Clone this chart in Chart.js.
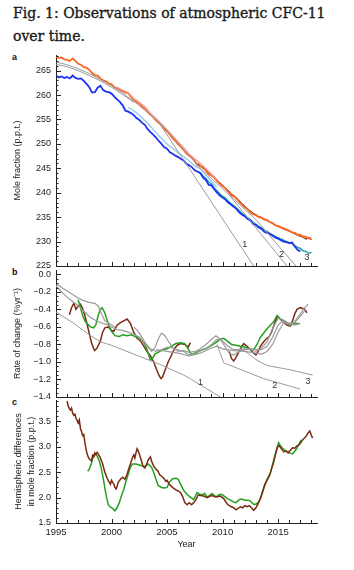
<!DOCTYPE html>
<html>
<head>
<meta charset="utf-8">
<script src="https://cdn.jsdelivr.net/npm/chart.js@4.4.1/dist/chart.umd.min.js"></script>
<style>
  body { margin: 0; background: #fff; }
  #page { position: relative; width: 354px; height: 570px; overflow: hidden; }
  #title { position: absolute; left: 13px; top: 2px; font-family: "DejaVu Serif", serif; font-size: 14px; line-height: 23px; color: #1a1a1a; white-space: nowrap; -webkit-text-stroke: 0.35px #1a1a1a; }
  .tag { position: absolute; left: 12px; font: bold 9px "Liberation Sans", Arial, sans-serif; color: #111; }
  canvas { position: absolute; left: 0; }
</style>
</head>
<body>
<div id="page">
  <div id="title">Fig. 1: Observations of atmospheric CFC-11<br>over time.</div>
  <div class="tag" style="top:52px">a</div>
  <div class="tag" style="top:267px">b</div>
  <div class="tag" style="top:397px">c</div>
  <canvas id="chartA" width="354" height="226" style="top:48px"></canvas>
  <canvas id="chartB" width="354" height="140" style="top:266px"></canvas>
  <canvas id="chartC" width="354" height="160" style="top:395px"></canvas>
</div>
<script>
// ---- panel a: mole fraction (p.p.t.), quarterly from the start year ----
const nhAgageStart = 1995.0;
const nhAgage = [267.8, 267.6, 267.7, 267.3, 267.2, 267.0, 267.5, 267.0, 266.4, 266.2, 265.7, 265.6,
  265.2, 264.5, 264.1, 264.0, 263.4, 263.0, 262.8, 262.4, 262.2, 261.6, 261.4, 261.1,
  260.8, 260.5, 260.4, 259.6, 259.0, 258.6, 258.3, 257.6, 257.2, 256.5, 256.0, 255.5,
  254.8, 254.3, 253.8, 253.0, 252.6, 251.9, 251.2, 250.6, 249.9, 249.4, 248.7, 248.0,
  247.5, 247.2, 246.5, 245.6, 245.4, 245.3, 244.5, 243.8, 243.5, 243.2, 242.4, 241.8,
  241.3, 240.9, 240.2, 239.6, 239.3, 238.9, 238.1, 237.5, 237.0, 236.6, 236.0, 235.6,
  235.4, 235.0, 234.9, 234.5, 234.4, 234.0, 233.8, 233.3, 233.2, 232.9, 232.7, 232.5,
  232.2, 231.9, 231.8, 231.4, 231.4, 231.0, 231.0, 230.6, 230.7];
const shAgageStart = 1995.0;
const shAgage = [264.0, 263.6, 263.8, 263.5, 263.7, 263.4, 264.0, 263.5, 263.3, 263.4, 262.9, 262.3,
  261.6, 260.5, 260.6, 261.5, 261.9, 261.0, 260.7, 260.6, 260.3, 259.7, 259.1, 258.6,
  257.9, 256.8, 256.6, 256.3, 255.9, 255.3, 254.9, 254.3, 253.9, 253.0, 252.4, 251.9,
  251.3, 250.6, 250.0, 249.3, 249.0, 248.3, 248.0, 247.6, 247.3, 246.9, 246.6, 245.9,
  245.6, 245.2, 244.6, 244.3, 244.0, 243.1, 242.6, 241.6, 241.5, 240.7, 240.0, 239.4,
  239.0, 238.6, 238.0, 237.6, 237.1, 236.7, 236.0, 235.5, 235.2, 234.6, 234.3, 233.6,
  233.4, 232.9, 232.6, 232.0, 231.8, 231.6, 231.2, 230.8, 230.6, 230.3, 230.0, 229.9,
  229.7, 229.8, 229.0, 228.3, 228.0];
const nhNoaaStart = 2007.75;
const nhNoaa = [246.0, 245.5, 245.0, 244.6, 244.0, 243.6, 243.0, 242.5, 242.0, 241.5, 240.9, 240.4,
  239.8, 239.4, 238.8, 238.3, 237.7, 237.2, 236.7, 236.2, 235.8, 235.5, 235.1, 234.9,
  234.6, 234.3, 234.0, 233.7, 233.4, 233.1, 232.9, 232.6, 232.4, 232.1, 231.9, 231.6,
  231.3, 231.1, 230.9, 230.5, 230.8, 230.4];
const shNoaaStart = 2007.75;
const shNoaa = [244.4, 244.1, 243.4, 242.9, 242.2, 241.8, 241.0, 240.4, 239.8, 239.3, 238.9, 238.3,
  237.8, 237.4, 236.9, 236.3, 235.8, 235.4, 234.9, 234.5, 233.9, 233.6, 233.1, 232.8,
  232.3, 232.1, 231.7, 231.4, 231.1, 230.8, 230.5, 230.3, 230.0, 229.8, 229.6, 229.2,
  228.8, 228.6, 228.1, 228.0, 227.6, 227.8];
const nhOtherYears = [2000.5, 2001.0, 2001.5, 2002.0, 2002.5, 2003.0, 2003.5, 2004.0, 2004.5, 2005.0,
  2005.5, 2006.0, 2006.5, 2007.0, 2007.5, 2008.0, 2008.5, 2009.0, 2009.5];
const nhOther = [261.6, 261.0, 260.5, 259.3, 258.5, 257.6, 256.3, 255.2, 254.1, 252.9,
  251.7, 250.4, 249.2, 247.9, 246.9, 246.0, 244.9, 243.8, 242.7];
const shOtherYears = [2001.5, 2002.0, 2002.5, 2003.0, 2003.5, 2004.0, 2004.5, 2005.0, 2005.5, 2006.0,
  2006.5, 2007.0, 2007.5, 2008.0, 2008.5, 2009.0, 2009.5];
const shOther = [257.5, 256.8, 255.9, 254.8, 253.6, 252.3, 251.1, 250.0, 249.1, 248.2,
  247.4, 246.5, 245.5, 244.8, 243.6, 242.3, 241.1];
const meanYears = [1995, 1996, 1997, 1998, 1999, 2000, 2001, 2002, 2003, 2004, 2005, 2006, 2007,
  2008, 2009, 2010, 2011, 2012, 2013];
const meanFit = [266.8, 266.2, 265.4, 264.4, 263.2, 261.9, 260.4, 258.7, 256.9, 255.0, 252.8, 250.2, 247.5,
  245.0, 242.9, 240.8, 238.8, 236.6, 234.5];
const earlyFitYears = [1995, 1996, 1997, 1998, 1999, 2000, 2001, 2002];
const earlyFit = [266.3, 265.8, 265.0, 264.0, 262.9, 261.6, 260.1, 258.5];
const projAYears = [[2004.2, 2012.8], [2010.5, 2015.8], [2013.0, 2016.6]];
const projAValues = [[254.6, 225.0], [239.8, 225.0], [234.5, 225.0]];
const moleTicks = [225, 230, 235, 240, 245, 250, 255, 260, 265];

// ---- panel b: rate of change (% per yr) ----
const rateNh1Years = [1996.2, 1996.4, 1996.6, 1996.8, 1997.0, 1997.2, 1997.4, 1997.6, 1997.8, 1998.0,
  1998.2, 1998.4, 1998.5, 1998.7, 1999.0, 1999.2, 1999.4, 1999.7, 2000.0, 2000.2, 2000.5, 2000.8,
  2001.1, 2001.4, 2001.7, 2002.0, 2002.3, 2002.6, 2002.9, 2003.2, 2003.5, 2003.8, 2004.1, 2004.3,
  2004.45, 2004.6, 2004.8, 2005.1, 2005.4, 2005.7, 2006.0, 2006.3, 2006.6, 2006.9, 2007.1];
const rateNh1 = [-0.46, -0.38, -0.33, -0.40, -0.36, -0.34, -0.39, -0.47, -0.57, -0.68,
  -0.78, -0.85, -0.87, -0.84, -0.76, -0.66, -0.61, -0.60, -0.64, -0.65, -0.58, -0.55,
  -0.53, -0.51, -0.56, -0.66, -0.73, -0.76, -0.82, -0.88, -0.93, -1.00, -1.10, -1.16,
  -1.19, -1.17, -1.10, -1.00, -0.92, -0.84, -0.80, -0.79, -0.80, -0.83, -0.78];
const rateNh2Years = [2010.6, 2010.8, 2011.0, 2011.2, 2011.4, 2011.6, 2011.9, 2012.2, 2012.5, 2012.8,
  2013.0, 2013.2, 2013.4, 2013.7, 2013.9, 2014.2, 2014.4, 2014.6, 2014.8, 2014.95, 2015.2, 2015.5,
  2015.8, 2016.1, 2016.3, 2016.5, 2016.7, 2017.0, 2017.2, 2017.4, 2017.6];
const rateNh2 = [-0.88, -0.96, -0.99, -0.95, -0.90, -0.85, -0.79, -0.82, -0.86, -0.90,
  -0.92, -0.88, -0.82, -0.77, -0.74, -0.71, -0.66, -0.59, -0.52, -0.48, -0.51, -0.55,
  -0.58, -0.59, -0.53, -0.45, -0.40, -0.38, -0.39, -0.40, -0.44];
const rateShYears = [1997.0, 1997.2, 1997.4, 1997.6, 1997.8, 1998.1, 1998.4, 1998.6, 1998.8, 1999.0,
  1999.15, 1999.4, 1999.7, 2000.0, 2000.3, 2000.7, 2001.0, 2001.4, 2001.8, 2002.1, 2002.5, 2002.8,
  2003.1, 2003.3, 2003.5, 2003.7, 2003.9, 2004.2, 2004.6, 2005.0, 2005.4, 2005.8, 2006.2, 2006.6,
  2006.9, 2007.2, 2007.5, 2007.8, 2008.2, 2008.6, 2009.0, 2009.4, 2009.8, 2010.1, 2010.4, 2010.8,
  2011.2, 2011.6, 2012.0, 2012.4, 2012.8, 2013.1, 2013.4, 2013.7, 2014.0, 2014.3, 2014.6, 2014.9,
  2015.2, 2015.5, 2015.8, 2016.1, 2016.4, 2016.9];
const rateSh = [-0.29, -0.38, -0.47, -0.53, -0.56, -0.60, -0.61, -0.57, -0.47, -0.40,
  -0.38, -0.44, -0.56, -0.65, -0.70, -0.71, -0.69, -0.70, -0.69, -0.71, -0.72, -0.76,
  -0.82, -0.90, -0.98, -0.96, -0.91, -0.89, -0.86, -0.85, -0.82, -0.79, -0.78, -0.79,
  -0.85, -0.92, -0.90, -0.88, -0.86, -0.84, -0.81, -0.78, -0.74, -0.73, -0.76, -0.80,
  -0.81, -0.82, -0.83, -0.85, -0.86, -0.80, -0.72, -0.67, -0.62, -0.58, -0.54, -0.47,
  -0.51, -0.53, -0.55, -0.58, -0.56, -0.56];
const rateMeanYears = [1995.0, 1995.5, 1996.0, 1996.5, 1997.0, 1997.5, 1998.0, 1998.5, 1999.0, 1999.5,
  2000.0, 2000.5, 2001.0, 2001.5, 2002.0, 2002.5, 2003.0, 2003.5, 2004.0, 2004.5, 2005.0, 2005.5,
  2006.0, 2006.5, 2007.0, 2007.5, 2008.0, 2008.5, 2009.0, 2009.5, 2010.0, 2010.5, 2011.0, 2011.5,
  2012.0, 2012.5, 2013.0, 2013.5, 2014.0, 2014.5, 2015.0, 2015.5, 2016.0, 2016.5, 2017.0, 2017.5];
const rateMean = [-0.13, -0.20, -0.26, -0.31, -0.36, -0.42, -0.48, -0.52, -0.55, -0.57,
  -0.60, -0.63, -0.64, -0.66, -0.68, -0.72, -0.78, -0.85, -0.88, -0.86, -0.83, -0.84,
  -0.86, -0.88, -0.92, -0.91, -0.87, -0.85, -0.80, -0.74, -0.76, -0.82, -0.86, -0.86,
  -0.85, -0.86, -0.88, -0.84, -0.77, -0.62, -0.50, -0.52, -0.56, -0.55, -0.48, -0.40];
const rateEarlyYears = [1995.0, 1995.5, 1996.0, 1996.5, 1997.0, 1997.5, 1998.0, 1998.5, 1998.8, 1999.1,
  1999.4, 1999.8, 2000.3];
const rateEarly = [-0.10, -0.15, -0.19, -0.23, -0.27, -0.30, -0.32, -0.33, -0.36, -0.45,
  -0.53, -0.56, -0.60];
const rateGrayNhYears = [2002.0, 2002.4, 2002.8, 2003.2, 2003.6, 2003.9, 2004.2, 2004.5, 2004.8, 2005.2,
  2005.6, 2006.0, 2006.5, 2007.0, 2007.5, 2008.0, 2008.5, 2009.0, 2009.4, 2009.8, 2010.2, 2010.6,
  2011.0, 2011.5, 2012.0, 2012.5, 2013.0, 2013.5, 2014.0, 2014.5, 2015.0, 2015.4, 2015.8, 2016.2,
  2016.6, 2017.0, 2017.4, 2017.7];
const rateGrayNh = [-0.60, -0.65, -0.73, -0.82, -0.88, -0.84, -0.74, -0.67, -0.70, -0.78,
  -0.85, -0.88, -0.87, -0.89, -0.88, -0.85, -0.80, -0.74, -0.70, -0.74, -0.82, -0.90,
  -0.92, -0.88, -0.86, -0.85, -0.86, -0.86, -0.82, -0.72, -0.58, -0.53, -0.56, -0.58,
  -0.52, -0.45, -0.38, -0.34];
const rateGrayShYears = [2004.0, 2005.0, 2006.0, 2007.0, 2008.0, 2009.0, 2009.5, 2010.0, 2011.0, 2012.0,
  2013.0, 2013.5, 2014.0, 2014.5, 2015.0, 2015.5, 2016.0, 2016.5, 2017.0];
const rateGraySh = [-0.86, -0.88, -0.90, -0.93, -0.90, -0.84, -0.82, -0.85, -0.87, -0.88,
  -0.90, -0.91, -0.88, -0.80, -0.66, -0.55, -0.56, -0.58, -0.56];
const projBYears = [[1995.0, 1996.5, 1998.0, 1999.0, 2000.0, 2002.0, 2004.4, 2006.5, 2007.2, 2009.8],
  [2009.5, 2010.1, 2013.7, 2017.0], [2011.6, 2013.1, 2014.0, 2016.1, 2018.1]];
const projBValues = [[-0.43, -0.55, -0.69, -0.77, -0.81, -0.91, -1.03, -1.15, -1.20, -1.40],
  [-0.80, -1.01, -1.19, -1.31], [-0.84, -0.98, -1.04, -1.09, -1.15]];
const rateTicks = [-1.4, -1.2, -1.0, -0.8, -0.6, -0.4, -0.2, 0.0];

// ---- panel c: hemispheric difference (p.p.t.) ----
const diffAgageYears = [1996.0, 1996.1, 1996.2, 1996.3, 1996.4, 1996.5, 1996.6, 1996.7, 1996.8, 1996.9,
  1997.0, 1997.1, 1997.2, 1997.3, 1997.4, 1997.5, 1997.6, 1997.7, 1997.8, 1997.9, 1998.0, 1998.1,
  1998.2, 1998.3, 1998.4, 1998.5, 1998.6, 1998.7, 1998.8, 1999.0, 1999.2, 1999.4, 1999.6, 1999.8,
  1999.9, 2000.0, 2000.1, 2000.2, 2000.3, 2000.4, 2000.5, 2000.6, 2000.8, 2001.0, 2001.2, 2001.4,
  2001.6, 2001.7, 2001.9, 2002.0, 2002.1, 2002.2, 2002.3, 2002.4, 2002.5, 2002.7, 2002.8, 2002.9,
  2003.0, 2003.2, 2003.3, 2003.5, 2003.6, 2003.8, 2004.0, 2004.2, 2004.3, 2004.5, 2004.7, 2004.9,
  2005.0, 2005.2, 2005.4, 2005.6, 2005.8, 2006.0, 2006.2, 2006.4, 2006.6, 2006.8, 2007.0, 2007.2,
  2007.4, 2007.6, 2007.8, 2008.0, 2008.3, 2008.6, 2009.0, 2009.4, 2009.8, 2010.1, 2010.4, 2010.6,
  2010.8, 2011.0, 2011.2, 2011.4, 2011.6, 2011.8, 2012.0, 2012.2, 2012.4, 2012.6, 2012.8, 2013.0,
  2013.2, 2013.4, 2013.6, 2013.8, 2014.0, 2014.2, 2014.4, 2014.6, 2014.8, 2014.95, 2015.1, 2015.3,
  2015.5, 2015.7, 2015.9, 2016.1, 2016.3, 2016.5, 2016.7, 2016.9, 2017.1, 2017.3, 2017.5, 2017.7,
  2017.85, 2018.0, 2018.1];
const diffAgage = [3.90, 3.80, 3.75, 3.72, 3.76, 3.66, 3.62, 3.64, 3.56, 3.52,
  3.47, 3.53, 3.36, 3.30, 3.22, 3.24, 3.08, 2.96, 2.86, 2.80, 2.76, 2.74,
  2.72, 2.83, 2.80, 2.88, 2.85, 2.89, 2.86, 2.78, 2.66, 2.50, 2.38, 2.30,
  2.26, 2.34, 2.30, 2.27, 2.20, 2.17, 2.22, 2.30, 2.36, 2.40, 2.36, 2.46,
  2.60, 2.66, 2.80, 2.84, 2.78, 2.88, 2.96, 2.92, 2.86, 2.72, 2.64, 2.60,
  2.58, 2.68, 2.74, 2.80, 2.72, 2.62, 2.56, 2.52, 2.46, 2.42, 2.38, 2.32,
  2.34, 2.26, 2.22, 2.18, 2.15, 2.13, 2.10, 2.02, 1.90, 1.86, 1.90, 1.86,
  1.90, 1.96, 2.05, 2.04, 2.03, 2.00, 2.04, 2.01, 2.03, 1.98, 1.88, 1.84,
  1.82, 1.80, 1.76, 1.79, 1.82, 1.80, 1.84, 1.82, 1.84, 1.80, 1.75, 1.80,
  1.88, 1.98, 2.12, 2.26, 2.34, 2.42, 2.56, 2.70, 2.88, 3.00, 3.02, 2.96,
  2.90, 2.92, 2.88, 2.93, 2.98, 2.97, 3.02, 3.04, 3.10, 3.16, 3.20, 3.27,
  3.31, 3.22, 3.17];
const diffNoaaYears = [1997.85, 1998.0, 1998.2, 1998.35, 1998.5, 1998.7, 1998.9, 1999.1, 1999.3, 1999.5,
  1999.7, 1999.9, 2000.1, 2000.3, 2000.5, 2000.7, 2000.9, 2001.1, 2001.3, 2001.5, 2001.7, 2001.9,
  2002.2, 2002.5, 2002.8, 2003.0, 2003.3, 2003.6, 2003.8, 2004.0, 2004.2, 2004.5, 2004.8, 2005.0,
  2005.2, 2005.5, 2005.8, 2006.0, 2006.2, 2006.5, 2006.8, 2007.1, 2007.4, 2007.7, 2007.9, 2008.1,
  2008.4, 2008.6, 2008.8, 2009.05, 2009.3, 2009.5, 2009.7, 2009.95, 2010.2, 2010.5, 2010.8, 2011.0,
  2011.2, 2011.5, 2011.7, 2012.0, 2012.3, 2012.5, 2012.8, 2013.0, 2013.2, 2013.4, 2013.6, 2013.8,
  2014.0, 2014.3, 2014.5, 2014.7, 2014.9, 2015.05, 2015.2, 2015.4, 2015.7, 2016.0, 2016.3, 2016.6,
  2016.9, 2017.1];
const diffNoaa = [2.52, 2.56, 2.68, 2.82, 2.86, 2.82, 2.72, 2.55, 2.32, 2.06,
  1.86, 1.81, 1.79, 1.74, 1.80, 1.90, 2.04, 2.16, 2.32, 2.46, 2.60, 2.66,
  2.66, 2.64, 2.62, 2.61, 2.66, 2.60, 2.50, 2.36, 2.24, 2.20, 2.19, 2.20,
  2.30, 2.37, 2.38, 2.36, 2.27, 2.14, 2.06, 2.01, 1.96, 2.10, 2.07, 2.05,
  2.08, 2.01, 2.04, 2.08, 2.03, 2.02, 2.06, 2.06, 2.02, 1.97, 1.94, 1.91,
  1.90, 1.96, 1.97, 1.95, 1.95, 1.93, 1.87, 1.87, 1.90, 1.98, 2.10, 2.24,
  2.36, 2.48, 2.65, 2.82, 2.98, 3.08, 3.02, 2.97, 2.92, 2.88, 2.86, 2.94,
  3.06, 3.14];
const diffTicks = [1.5, 2.0, 2.5, 3.0, 3.5];
const yearTicks = [1995, 2000, 2005, 2010, 2015];

const projLabels = ['1', '2', '3'];
const projLabelA = [[2012.0, 229.5], [2015.3, 227.4], [2017.6, 226.8]];
const projLabelB = [[2008.0, -1.24], [2014.7, -1.27], [2017.7, -1.22]];

const ORANGE = '#ff6622', PINK = '#f49a96', BROWN = '#7a2a10', BLUE = '#1d33f0',
  TEAL = '#1b9a92', LIGHTBLUE = '#92c6f0', GREEN = '#23a01f', GRAY = '#9a9a9a', INK = '#222';
const SANS = '"Liberation Sans", Arial, sans-serif';

const pts = (xs, ys) => xs.map((x, i) => ({x, y: ys[i]}));
const quarterly = (start, ys) => ys.map((y, i) => ({x: start + i * 0.25, y}));
const line = (data, color, width) => ({data, borderColor: color, borderWidth: width,
  pointRadius: 0, showLine: true, fill: false, tension: 0});

// ticks that point into the plot, like the original figure
const inwardTicks = {
  id: 'inwardTicks',
  afterDraw(chart, args, opts) {
    const {ctx, chartArea: a, scales: {x, y}} = chart;
    ctx.save();
    ctx.strokeStyle = INK;
    ctx.lineWidth = 1;
    ctx.beginPath();
    for (let yr = 1995; yr <= x.max; yr++) {
      const px = Math.round(x.getPixelForValue(yr)) + 0.5;
      const len = (yr % 5 === 0) ? 4 : 3;
      ctx.moveTo(px, a.bottom);
      ctx.lineTo(px, a.bottom - len);
    }
    const n = Math.round((y.max - y.min) / opts.minor);
    for (let k = 0; k <= n; k++) {
      const v = y.min + k * opts.minor;
      if (v > y.max) break;
      const r = v / opts.major;
      const major = Math.abs(r - Math.round(r)) < 1e-6;
      const py = Math.round(y.getPixelForValue(v)) + 0.5;
      ctx.moveTo(a.left, py);
      ctx.lineTo(a.left + (major ? 5 : 2.5), py);
    }
    ctx.stroke();
    ctx.fillStyle = '#333';
    ctx.font = '9px ' + SANS;
    ctx.textAlign = 'center';
    ctx.textBaseline = 'middle';
    (opts.labels || []).forEach((p, i) => {
      ctx.fillText(projLabels[i], x.getPixelForValue(p[0]), y.getPixelForValue(p[1]));
    });
    ctx.restore();
  }
};

function yScale(min, max, tickValues, title, fmt, titlePad, lineHeight) {
  return {
    min, max,
    afterBuildTicks: s => { s.ticks = tickValues.map(value => ({value})); },
    afterFit: s => { s.width = 56; s.paddingTop = 0; s.paddingBottom = 0; },
    grid: {display: false, drawTicks: false},
    border: {display: true, color: INK, width: 1},
    ticks: {padding: 5, color: INK, autoSkip: false, font: {family: SANS, size: 9}, callback: fmt},
    title: {display: true, text: title, color: INK, padding: {top: titlePad, bottom: 0},
      font: {family: SANS, size: 9, lineHeight: lineHeight || 1.2}}
  };
}

function xScale(showLabels) {
  return {
    type: 'linear', min: 1995, max: 2018.5,
    afterBuildTicks: s => { s.ticks = yearTicks.map(value => ({value})); },
    afterFit: s => { s.height = showLabels ? 30 : 0; s.paddingLeft = 0; s.paddingRight = 0; },
    grid: {display: false, drawTicks: false},
    border: {display: true, color: INK, width: 1},
    ticks: {display: showLabels, padding: 4, maxRotation: 0, autoSkip: false,
      color: INK, font: {family: SANS, size: 9.5}, callback: v => String(v)},
    title: {display: showLabels, text: 'Year', color: INK, padding: {top: 0, bottom: 3},
      font: {family: SANS, size: 9}}
  };
}

function makeChart(id, datasets, y, showX, padding, tickOpts) {
  return new Chart(document.getElementById(id), {
    type: 'scatter',
    data: {datasets},
    options: {
      responsive: false, animation: false, devicePixelRatio: 1,
      layout: {padding},
      plugins: {legend: {display: false}, tooltip: {enabled: false}, inwardTicks: tickOpts},
      scales: {x: xScale(showX), y}
    },
    plugins: [inwardTicks]
  });
}

const fmt1 = v => Math.abs(v) < 1e-9 ? '0.0' : v.toFixed(1).replace('-', '\u2212');

makeChart('chartA', [
  line(pts(earlyFitYears, earlyFit), GRAY, 1),
  line(pts(meanYears, meanFit), GRAY, 1),
  ...projAYears.map((xs, i) => line(pts(xs, projAValues[i]), GRAY, 1)),
  line(pts(shOtherYears, shOther), LIGHTBLUE, 1.3),
  line(pts(nhOtherYears, nhOther), PINK, 1.3),
  line(quarterly(shAgageStart, shAgage), BLUE, 1.8),
  line(quarterly(shNoaaStart, shNoaa), TEAL, 1.3),
  line(quarterly(nhAgageStart, nhAgage), ORANGE, 1.8),
  line(quarterly(nhNoaaStart, nhNoaa), BROWN, 1.2)
], yScale(225, 268.2, moleTicks, 'Mole fraction (p.p.t.)', v => String(v), 12.6),
  false, {top: 7, right: 37, bottom: 8, left: 0}, {minor: 1, major: 5, labels: projLabelA});

makeChart('chartB', [
  ...projBYears.map((xs, i) => line(pts(xs, projBValues[i]), GRAY, 1)),
  line(pts(rateEarlyYears, rateEarly), GRAY, 1.2),
  line(pts(rateMeanYears, rateMean), GRAY, 1.2),
  line(pts(rateGrayNhYears, rateGrayNh), GRAY, 1.2),
  line(pts(rateGrayShYears, rateGraySh), GRAY, 1.2),
  line(pts(rateShYears, rateSh), GREEN, 1.5),
  line(pts(rateNh1Years, rateNh1), BROWN, 1.5),
  line(pts(rateNh2Years, rateNh2), BROWN, 1.5)
], yScale(-1.4, 0.05, rateTicks, 'Rate of change (%yr\u207B\u00B9)', fmt1, 12.6),
  false, {top: 4, right: 37, bottom: 9, left: 0}, {minor: 0.05, major: 0.2, labels: projLabelB});

makeChart('chartC', [
  line(pts(diffAgageYears, diffAgage), BROWN, 1.5),
  line(pts(diffNoaaYears, diffNoaa), GREEN, 1.5)
], yScale(1.5, 3.92, diffTicks, ['Hemispheric differences', 'in mole fraction (p.p.t.)'], fmt1, 11.3, 1.5),
  true, {top: 5, right: 37, bottom: 2, left: 0}, {minor: 0.1, major: 0.5});
</script>
</body>
</html>
